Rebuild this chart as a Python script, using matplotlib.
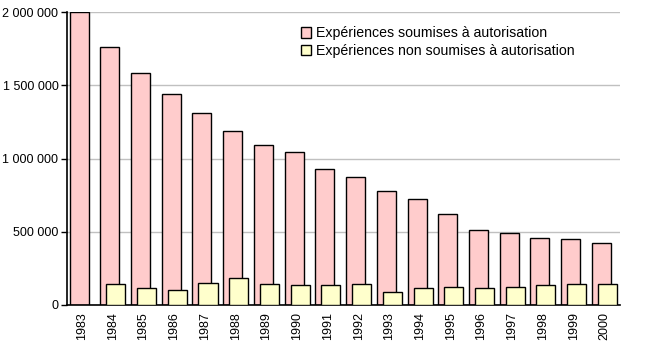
import numpy as np
import matplotlib.pyplot as plt
from matplotlib.ticker import FuncFormatter

plt.rcParams['font.family'] = ['Liberation Sans', 'DejaVu Sans']

years = [str(y) for y in range(1983, 2001)]
soumises = [1998000, 1759000, 1581000, 1438000, 1308000, 1186000, 1090000, 1042000, 926000,
            872000, 776000, 721000, 619000, 510000, 489000, 455000, 448000, 421000]
non_soumises = [0, 141000, 114000, 100000, 148000, 182000, 141000, 134000, 134000,
                141000, 87000, 114000, 121000, 114000, 121000, 134000, 141000, 141000]

x = np.arange(len(years))
w = 0.62

fig = plt.figure(figsize=(6.7, 3.44), dpi=100)
ax = fig.add_axes([0.0996, 0.1134, 0.8254, 0.8516])

ax.bar(x - 0.098, soumises, w, color='#FFCCCC', edgecolor='black', linewidth=1,
       label='Expériences soumises à autorisation', zorder=2)
nz = [v if v > 0 else np.nan for v in non_soumises]
ax.bar(x + 0.098, nz, w, color='#FFFFCC', edgecolor='black', linewidth=1,
       label='Expériences non soumises à autorisation', zorder=3)

ax.set_xlim(-0.5, len(years) - 0.5)
ax.set_ylim(0, 2000000)
ax.set_yticks([0, 500000, 1000000, 1500000, 2000000])
ax.yaxis.set_major_formatter(FuncFormatter(lambda v, p: f'{int(v):,}'.replace(',', ' ')))
ax.set_xticks(x)
ax.set_xticklabels(years, rotation=90)
ax.tick_params(axis='x', length=0, pad=5, labelsize=9)
ax.tick_params(axis='y', length=4, width=1, labelsize=9, pad=2)

ax.grid(axis='y', color='#C0C0C0', linewidth=1, zorder=0)
ax.set_axisbelow(True)
for s in ['top', 'right']:
    ax.spines[s].set_visible(False)
for s in ['left', 'bottom']:
    ax.spines[s].set_linewidth(1.2)

ax.legend(loc='upper left', bbox_to_anchor=(0.40, 0.995), frameon=False, fontsize=10.2,
          handlelength=0.75, handleheight=0.75, handletextpad=0.3, labelspacing=0.25)

plt.savefig('out.png', dpi=100)
